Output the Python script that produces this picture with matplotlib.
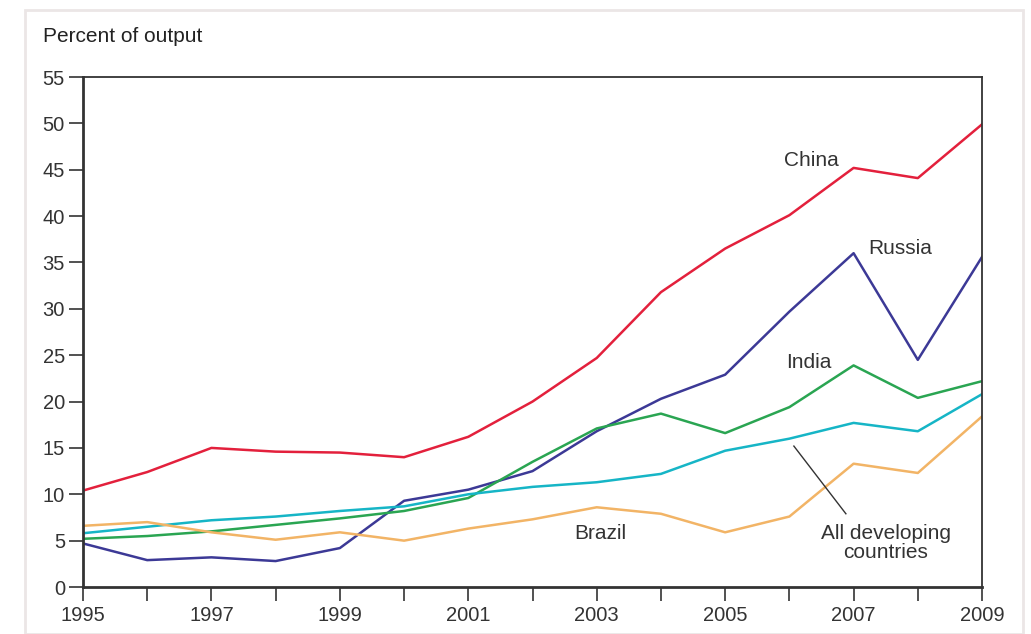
import matplotlib
matplotlib.use("Agg")
import matplotlib.pyplot as plt
from matplotlib.patches import Rectangle

plt.rcParams['font.family'] = ['Liberation Sans', 'DejaVu Sans']

years = list(range(1995, 2010))

# percent of output
china = [10.4, 12.4, 15.0, 14.6, 14.5, 14.0, 16.2, 20.0, 24.7, 31.8, 36.5, 40.1, 45.2, 44.1, 49.9]
russia = [4.7, 2.9, 3.2, 2.8, 4.2, 9.3, 10.5, 12.5, 16.8, 20.3, 22.9, 29.7, 36.0, 24.5, 35.6]
india = [5.2, 5.5, 6.0, 6.7, 7.4, 8.2, 9.6, 13.5, 17.1, 18.7, 16.6, 19.4, 23.9, 20.4, 22.2]
all_dev = [5.8, 6.5, 7.2, 7.6, 8.2, 8.7, 10.0, 10.8, 11.3, 12.2, 14.7, 16.0, 17.7, 16.8, 20.8]
brazil = [6.6, 7.0, 5.9, 5.1, 5.9, 5.0, 6.3, 7.3, 8.6, 7.9, 5.9, 7.6, 13.3, 12.3, 18.4]

fig = plt.figure(figsize=(10.31, 6.34), dpi=100)
fig.patches.append(Rectangle((0.024, 0.0), 0.968, 0.984, transform=fig.transFigure,
                             fill=False, edgecolor='#ebe6e6', linewidth=2))
ax = fig.add_axes([0.0805, 0.0741, 0.872, 0.8044])

ax.plot(years, china, color='#e3203c', lw=1.8)
ax.plot(years, russia, color='#3c3996', lw=1.8)
ax.plot(years, india, color='#2aa552', lw=1.8)
ax.plot(years, all_dev, color='#16b5c6', lw=1.8)
ax.plot(years, brazil, color='#f2b466', lw=1.8)

ax.set_xlim(1995, 2009)
ax.set_ylim(0, 55)
ax.set_yticks(range(0, 56, 5))
ax.set_xticks(years)
ax.set_xticklabels([str(y) if y % 2 == 1 else '' for y in years])
ax.tick_params(direction='out', length=10, width=1.2, colors='#333333', labelsize=14.5)
ax.tick_params(axis='y', pad=3)
ax.tick_params(axis='x', pad=4)
for s in ax.spines.values():
    s.set_color('#333333')
    s.set_linewidth(1.3)
ax.spines['bottom'].set_linewidth(2)
ax.spines['left'].set_linewidth(2)

lab = dict(fontsize=15, color='#333333')
ax.text(2006.34, 46.0, 'China', ha='center', va='center', **lab)
ax.text(2007.73, 36.5, 'Russia', ha='center', va='center', **lab)
ax.text(2006.31, 24.2, 'India', ha='center', va='center', **lab)
ax.text(2003.05, 5.8, 'Brazil', ha='center', va='center', **lab)
ax.text(2007.5, 4.75, 'All developing\ncountries', ha='center', va='center',
        linespacing=0.95, **lab)
ax.plot([2006.07, 2006.88], [15.2, 7.9], color='#333333', lw=1)

fig.text(0.042, 0.943, 'Percent of output', ha='left', va='center', fontsize=15, color='#222222')

fig.savefig('out.png', dpi=100)
